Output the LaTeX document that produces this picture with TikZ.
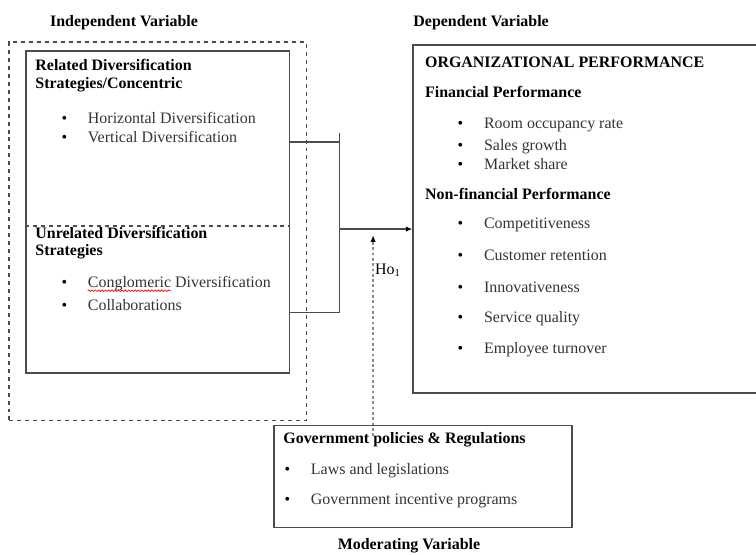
\documentclass[tikz,border=0pt]{standalone}
\usepackage{fontspec}
\setmainfont{Liberation Serif}
\usetikzlibrary{arrows.meta,decorations.pathmorphing}
\tikzset{
  txt/.style={inner sep=0pt, anchor=west, font=\fontsize{12}{14}\selectfont},
  head/.style={txt, font=\fontsize{12}{14}\selectfont\bfseries},
  item/.style={txt, text=black!80},
  box/.style={draw=black!70, line width=1pt},
  tip/.style={-{Latex[length=5pt,width=4pt,color=black]}},
}
\newcommand{\bul}[1]{\makebox[0.7cm][l]{\textcolor{black}{\textbullet}}#1}
\begin{document}
\begin{tikzpicture}
\useasboundingbox (0,0) rectangle (20,14.66);
\clip (0,0) rectangle (20,14.66);
% titles
\node [head] (indt) at (1.32,14.05) {Independent Variable};
\node [head] (dept) at (10.93,14.05) {Dependent Variable};
\node [head, anchor=center] (modt) at (10.82,0.21) {Moderating Variable};
% independent side
\node [box, dashed, minimum width=7.86cm, minimum height=10.01cm] (indep) at (4.17,8.545) {};
\node [box, minimum width=6.96cm, minimum height=8.52cm] (rel) at (4.17,9.05) {};
\coordinate (sep) at (0,8.68);
\draw [box, dashed] (rel.west |- sep) -- (rel.east |- sep);
\node [head] (relt) at (0.93,12.94) {Related Diversification};
\node [head] (relt2) at (0.93,12.41) {Strategies/Concentric};
\node [item] (hor) at (1.62,11.53) {\bul{Horizontal Diversification}};
\node [item] (ver) at (1.62,11.03) {\bul{Vertical Diversification}};
\node [head] (unrt) at (0.93,8.49) {Unrelated Diversification};
\node [head] (unrt2) at (0.93,7.99) {Strategies};
\node [item] (cong) at (1.62,7.17) {\bul{Conglomeric Diversification}};
\node [item] (coll) at (1.62,6.59) {\bul{Collaborations}};
\draw [red, line width=0.5pt, decorate, decoration={snake, amplitude=0.6pt, segment length=2.5pt}]
  ([xshift=0.7cm]cong.south west) -- ++(2.2,0);
% dependent side
\node [box, minimum width=10.5cm, minimum height=9.21cm] (dep) at (16.18,8.865) {};
\node [head] (orgt) at (11.24,13.02) {ORGANIZATIONAL PERFORMANCE};
\node [head] (fint) at (11.24,12.22) {Financial Performance};
\node [item] (room) at (12.10,11.35) {\bul{Room occupancy rate}};
\node [item] (sales) at (12.10,10.79) {\bul{Sales growth}};
\node [item] (mark) at (12.10,10.32) {\bul{Market share}};
\node [head] (nont) at (11.24,9.52) {Non-financial Performance};
\node [item] (comp) at (12.10,8.70) {\bul{Competitiveness}};
\node [item] (cust) at (12.10,7.91) {\bul{Customer retention}};
\node [item] (inno) at (12.10,7.06) {\bul{Innovativeness}};
\node [item] (serv) at (12.10,6.24) {\bul{Service quality}};
\node [item] (empl) at (12.10,5.42) {\bul{Employee turnover}};
% moderating box
\node [box, minimum width=7.88cm, minimum height=2.70cm] (gov) at (11.19,2.06) {};
\node [head] (govt) at (7.49,3.02) {Government policies \& Regulations};
\node [item] (laws) at (7.52,2.22) {\bul{Laws and legislations}};
\node [item] (ince) at (7.52,1.40) {\bul{Government incentive programs}};
% connectors
\coordinate (j1) at (8.99,10.90);
\coordinate (j2) at (8.99,6.40);
\coordinate (jt) at (8.99,11.14);
\coordinate (jm) at (8.99,8.60);
\draw [box] (rel.east |- j1) -- (j1);
\draw [box] (rel.east |- j2) -- (j2) -- (jt);
\draw [box, tip] (jm) -- (dep.west |- jm);
\coordinate (ho) at (9.87,8.44);
\draw [black!45, line width=1.2pt, dash pattern=on 2pt off 2pt, tip] ([yshift=-0.3cm]gov.north -| ho) -- (ho);
\node [txt, anchor=center] (hlab) at (10.26,7.51) {Ho\textsubscript{1}};
\end{tikzpicture}
\end{document}
